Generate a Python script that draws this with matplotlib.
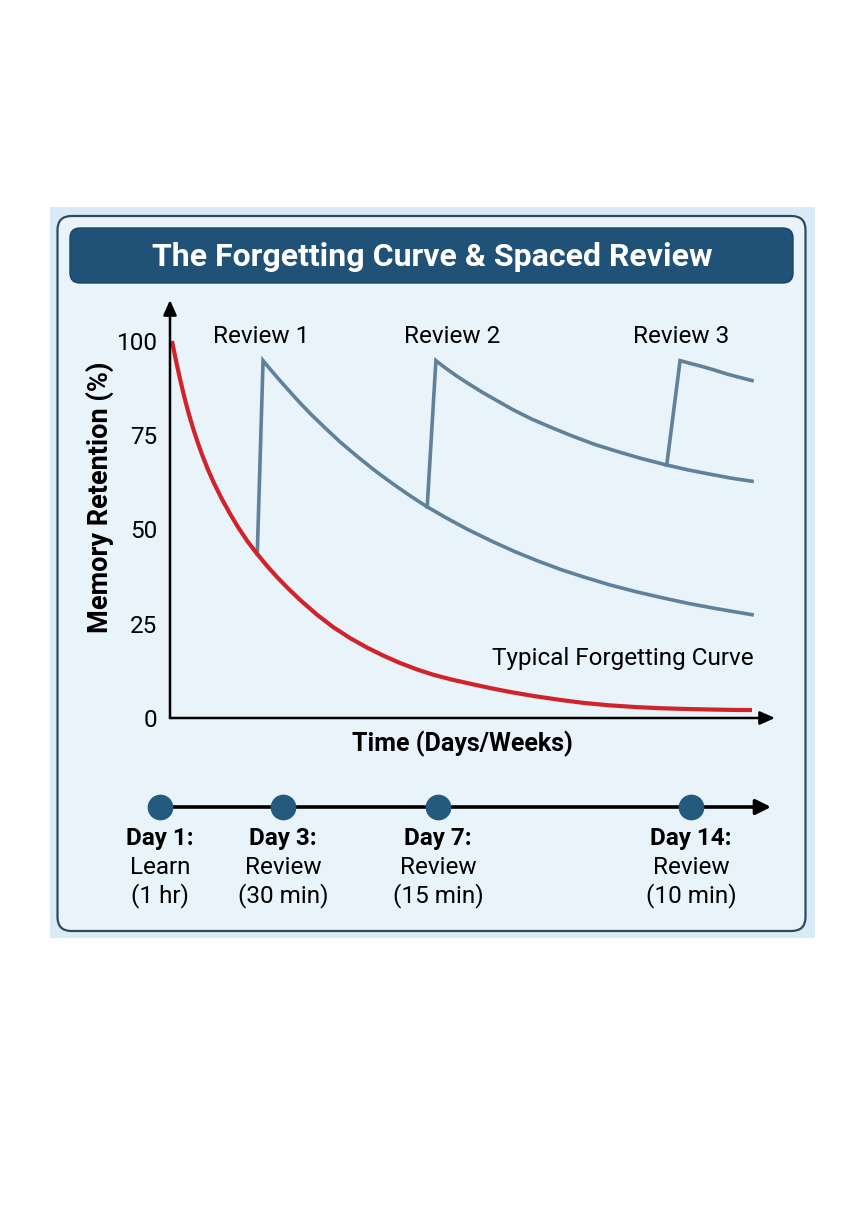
import matplotlib
matplotlib.use("Agg")
import matplotlib.pyplot as plt
from matplotlib.patches import FancyBboxPatch, Rectangle

# ---------------- data ----------------
title = "The Forgetting Curve & Spaced Review"

# typical forgetting curve (time units 0..100, retention %)
forget_t = [0, 0.7, 1.4, 2.1, 2.8, 3.6, 4.5, 5.3, 6.2, 7.3, 8.6, 10.0, 11.4, 13.0,
            14.7, 16.3, 18.1, 20.0, 22.1, 25.0, 27.8, 30.7, 33.6, 36.5, 39.3,
            42.2, 45.0, 48.2, 51.4, 55.0, 58.3, 62.5, 66.9, 71.0, 75.5, 80.0,
            84.1, 88.5, 92.8, 96.5, 100]
forget_r = [100, 94.7, 89.8, 85.3, 81.2, 77.0, 72.8, 69.4, 65.9, 62.1, 58.1, 54.2,
            50.6, 46.9, 43.5, 40.5, 37.4, 34.4, 31.3, 27.4, 24.1, 21.2, 18.7,
            16.5, 14.6, 12.9, 11.5, 10.2, 9.1, 7.9, 6.9, 5.8, 4.8, 4.0, 3.35,
            2.9, 2.6, 2.4, 2.25, 2.15, 2.1]

# after review 1
rev1_t = [14.7, 15.7, 17.0, 18.5, 20.0, 22.0, 24.0, 26.5, 29.0, 32.0, 35.0, 38.0,
          41.0, 44.0, 47.5, 51.0, 55.0, 59.0, 63.0, 67.0, 71.0, 75.5, 80.0,
          84.5, 89.0, 93.5, 100]
rev1_r = [43.5, 94.8, 92.4, 89.7, 87.1, 83.7, 80.5, 76.8, 73.2, 69.3, 65.6, 62.2,
          59.0, 56.0, 52.9, 50.0, 47.0, 44.2, 41.7, 39.4, 37.4, 35.3, 33.5,
          31.9, 30.4, 29.1, 27.4]

# after review 2
rev2_t = [44.0, 45.5, 47.0, 49.0, 51.0, 53.5, 56.0, 59.0, 62.0, 65.5, 69.0, 73.0,
          77.0, 81.0, 85.3, 89.0, 93.0, 96.5, 100]
rev2_r = [56.0, 94.8, 93.0, 90.8, 88.8, 86.4, 84.2, 81.6, 79.3, 77.0, 74.8, 72.5,
          70.6, 68.8, 67.1, 65.8, 64.6, 63.6, 62.8]

# after review 3
rev3_t = [85.3, 87.6, 89.5, 91.5, 93.5, 96.0, 98.0, 100]
rev3_r = [67.1, 94.8, 94.0, 93.2, 92.3, 91.1, 90.3, 89.5]

review_labels = ["Review 1", "Review 2", "Review 3"]
yticks = [0, 25, 50, 75, 100]

# timeline
timeline_bold = ["Day 1:", "Day 3:", "Day 7:", "Day 14:"]
timeline_act = ["Learn", "Review", "Review", "Review"]
timeline_dur = ["(1 hr)", "(30 min)", "(15 min)", "(10 min)"]

# ---------------- style ----------------
W, H = 864, 1232
FONT = ["Roboto", "DejaVu Sans"]
plt.rcParams["font.family"] = FONT
RED = "#d1232b"
BLUE = "#5f819a"
NAVY = "#1f5276"
DOT = "#245a7e"
BG_OUT = "#d9ebf6"
BG_IN = "#e8f3fa"
BORDER = "#2e4a5e"
FS = 17.5

fig = plt.figure(figsize=(W / 100, H / 100), dpi=100, facecolor="white")

# background / decoration axes in pixel coordinates
bg = fig.add_axes([0, 0, 1, 1])
bg.set_xlim(0, W)
bg.set_ylim(H, 0)
bg.axis("off")
bg.add_patch(Rectangle((50, 207), 765, 731, facecolor=BG_OUT, edgecolor="none"))
bg.add_patch(FancyBboxPatch((57.5, 216), 748, 715,
                            boxstyle="round,pad=0,rounding_size=14",
                            facecolor=BG_IN, edgecolor=BORDER, linewidth=1.6))
bg.add_patch(FancyBboxPatch((70, 228), 723, 55,
                            boxstyle="round,pad=0,rounding_size=10",
                            facecolor=NAVY, edgecolor="#184460", linewidth=1.0))
bg.text(432, 256.5, title, color="white", fontsize=23, fontweight="bold",
        ha="center", va="center", family=FONT)

# ---------------- chart ----------------
px_left, px_right = 170, 775
px_zero, px_top = 718, 300
ax = fig.add_axes([px_left / W, 1 - px_zero / H,
                   (px_right - px_left) / W, (px_zero - px_top) / H])
ax.set_facecolor("none")
unit_px = 5.8
ax.set_xlim(-2 / unit_px, (px_right - 172) / unit_px)
ax.set_ylim(0, 100 * (px_zero - px_top) / (px_zero - 341))
for s in ax.spines.values():
    s.set_visible(False)

ax.plot(rev1_t, rev1_r, color=BLUE, lw=2.6, solid_joinstyle="miter", zorder=2)
ax.plot(rev2_t, rev2_r, color=BLUE, lw=2.6, solid_joinstyle="miter", zorder=2)
ax.plot(rev3_t, rev3_r, color=BLUE, lw=2.6, solid_joinstyle="miter", zorder=2)
ax.plot(forget_t, forget_r, color=RED, lw=3.0, solid_capstyle="butt", zorder=3)

# axis arrows
ax.annotate("", xy=(0, 1.0), xytext=(0, 0), xycoords="axes fraction",
            arrowprops=dict(arrowstyle="-|>,head_length=0.9,head_width=0.4",
                            color="black", lw=1.8, shrinkA=0, shrinkB=0))
ax.annotate("", xy=(1.0, 0), xytext=(0, 0), xycoords="axes fraction",
            arrowprops=dict(arrowstyle="-|>,head_length=0.9,head_width=0.4",
                            color="black", lw=1.8, shrinkA=0, shrinkB=0))

ax.set_xticks([])
ax.set_yticks(yticks)
ax.set_yticklabels([str(v) for v in yticks])
ax.tick_params(axis="y", length=0, pad=9, labelsize=FS)

ax.set_ylabel("Memory Retention (%)", fontsize=19.5, fontweight="bold")
ax.yaxis.set_label_coords((100 - px_left) / (px_right - px_left),
                          (px_zero - 497) / (px_zero - px_top))
ax.yaxis.label.set_va("center")
ax.set_xlabel("Time (Days/Weeks)", fontsize=18, fontweight="bold")
ax.xaxis.set_label_coords((462 - px_left) / (px_right - px_left),
                          (px_zero - 744) / (px_zero - px_top))
ax.xaxis.label.set_va("center")

peaks = [rev1_t[1], rev2_t[1], rev3_t[1]]
label_dx = [-0.3, 2.8, 0.2]
for lab, pk, dx in zip(review_labels, peaks, label_dx):
    ax.text(pk + dx, 101.2, lab, fontsize=FS, ha="center", va="center")

ax.text(100.3, 15.8, "Typical Forgetting Curve", fontsize=FS, ha="right", va="center")

# ---------------- timeline ----------------
timeline_pos = [160, 283, 438, 691]
tl_y = 807
bg.annotate("", xy=(771, tl_y), xytext=(160, tl_y),
            arrowprops=dict(arrowstyle="-|>,head_length=0.9,head_width=0.45",
                            color="black", lw=2.6, shrinkA=0, shrinkB=0))
bg.plot(timeline_pos, [tl_y] * len(timeline_pos), "o", ms=17.5, color=DOT,
        markeredgecolor=DOT, zorder=5)
for x, b, a, d in zip(timeline_pos, timeline_bold, timeline_act, timeline_dur):
    bg.text(x, 838, b, fontsize=FS, fontweight="bold", ha="center", va="center")
    bg.text(x, 868, a, fontsize=FS, ha="center", va="center")
    bg.text(x, 896, d, fontsize=FS, ha="center", va="center")

fig.savefig("out.png", dpi=100, facecolor="white")
